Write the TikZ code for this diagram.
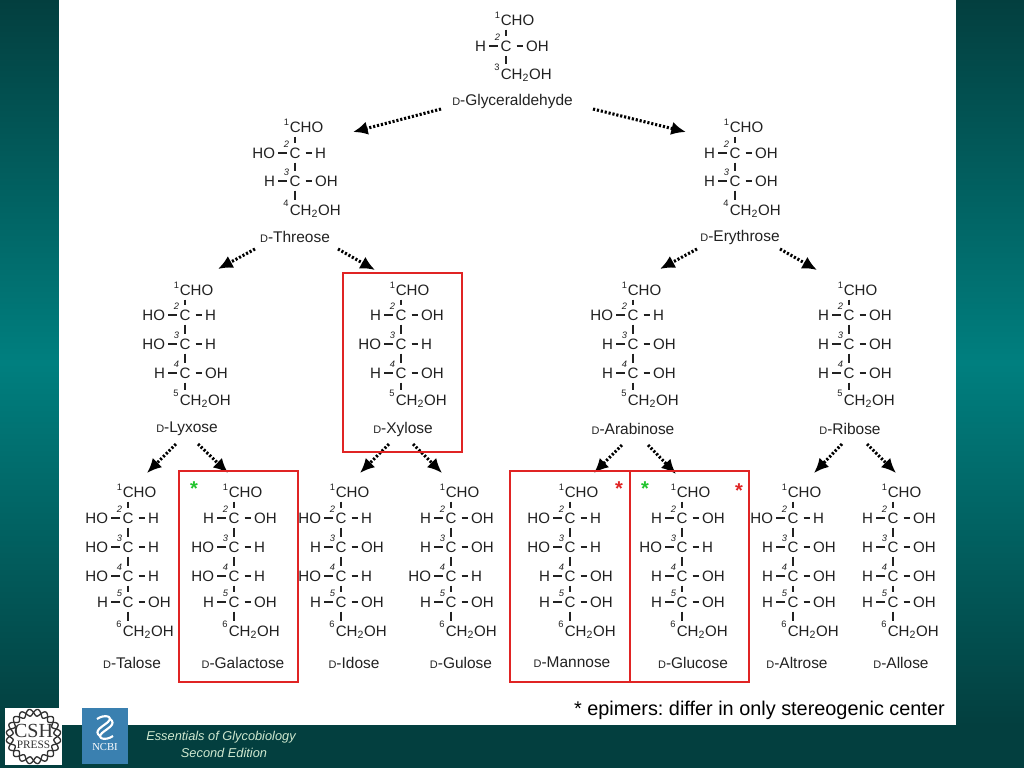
\documentclass[tikz,border=0pt]{standalone}
\usepackage{fontspec}
\setmainfont{Liberation Sans}
\newfontfamily\logofont{Liberation Serif}
\usetikzlibrary{arrows.meta}

\definecolor{bgdark}{HTML}{033F3F}
\definecolor{bgteal}{HTML}{007F7F}
\definecolor{boxred}{HTML}{E02424}
\definecolor{stargreen}{HTML}{22C42E}
\definecolor{inkgrey}{HTML}{222222}
\definecolor{ncbiblue}{HTML}{3A80B0}
\definecolor{footertext}{HTML}{CFE8CF}

\tikzset{
  atom/.style={font=\fontsize{11.3}{12}\selectfont, text=inkgrey, text height=8.1pt, text depth=0pt, inner xsep=0pt, inner ysep=3pt},
  carbon/.style={atom, inner xsep=1.7pt},
  leftgroup/.style={atom, anchor=east, inner xsep=2pt},
  rightgroup/.style={atom, anchor=west, inner xsep=2.2pt},
  num/.style={font=\fontsize{7}{7}\selectfont, text=inkgrey, inner sep=0pt},
  bond/.style={line width=1.4pt, draw=inkgrey},
  sugarname/.style={font=\fontsize{11.6}{13}\selectfont, text=inkgrey, inner sep=0pt},
  dotarrow/.style={line width=2.3pt, dash pattern=on 1.6pt off 1.4pt, -{Latex[length=11pt,width=10pt]}},
  redbox/.style={draw=boxred, line width=1.1pt},
  star/.style={font=\fontsize{15}{15}\bfseries\selectfont, inner sep=0pt},
  footer/.style={font=\fontsize{9.6}{11}\itshape\selectfont, text=footertext, inner sep=0pt}
}

% id, centre x, CHO y, rows y/left/right, CH2OH y, name, name position
\newcommand{\fischer}[7]{
  \node[atom, anchor=west] (#1c1) at (#2-5.5,#3) {CHO};
  \node[num] (#1n1) at (#2-8.5,#3-5) {1};
  \foreach \yy/\lft/\rgt [count=\n from 2] in {#4} {
    \pgfmathtruncatemacro\p{\n-1}
    \node[carbon] (#1c\n) at (#2,\yy) {C};
    \node[leftgroup] (#1l\n) at (#2-17,\yy) {\lft};
    \node[rightgroup] (#1r\n) at (#2+17,\yy) {\rgt};
    \node[num, font=\fontsize{7}{7}\itshape] (#1n\n) at (#2-8.5,\yy-8.5) {\n};
    \draw[bond] (#1c\p.south -| #1c\n.north) -- (#1c\n.north);
    \draw[bond] (#1l\n) -- (#1c\n);
    \draw[bond, shorten <=2pt] (#1c\n) -- (#1r\n);
    \xdef\lastc{\n}
  }
  \pgfmathtruncatemacro\q{\lastc+1}
  \node[atom, anchor=west] (#1c\q) at (#2-5.5,#5) {CH\textsubscript{2}OH};
  \node[num] (#1n\q) at (#2-9,#5-7) {\q};
  \draw[bond] (#1c\lastc.south) -- (#1c\lastc.south |- #1c\q.north);
  \node[sugarname] (#1name) at (#7) {{\fontsize{8.2}{9}\selectfont D}-#6};
}

% name, from, to
\newcommand{\reaction}[3]{
  \coordinate (#1a) at (#2);
  \coordinate (#1b) at (#3);
  \draw[dotarrow] (#1a) -- (#1b);
}

\begin{document}
\begin{tikzpicture}[x=0.75pt, y=-0.75pt]
  \useasboundingbox (0,0) rectangle (1024,768);

  % Background
  \shade[top color=bgdark, bottom color=bgdark, middle color=bgteal] (0,0) rectangle (1024,725);
  \fill[white] (59,0) rectangle (956,725);
  \fill[bgdark] (0,725) rectangle (1024,768);

  % Triose
  \fischer{gly}{506}{20}{46/H/OH}{74}{Glyceraldehyde}{512.5,101}
  % Tetroses
  \fischer{thr}{295}{127}{153/HO/H,181/H/OH}{210}{Threose}{295,237}
  \fischer{ery}{735}{127}{153/H/OH,181/H/OH}{210}{Erythrose}{740,237}
  % Pentoses
  \fischer{lyx}{185}{290}{315/HO/H,344/HO/H,373/H/OH}{400}{Lyxose}{187,429}
  \fischer{xyl}{401}{290}{315/H/OH,344/HO/H,373/H/OH}{400}{Xylose}{403,429}
  \fischer{ara}{633}{290}{315/HO/H,344/H/OH,373/H/OH}{400}{Arabinose}{633,429}
  \fischer{rib}{849}{290}{315/H/OH,344/H/OH,373/H/OH}{400}{Ribose}{850,429}
  % Hexoses
  \fischer{tal}{128}{492}{518/HO/H,547/HO/H,576/HO/H,602/H/OH}{631}{Talose}{132,662.5}
  \fischer{gal}{234}{492}{518/H/OH,547/HO/H,576/HO/H,602/H/OH}{631}{Galactose}{243,662.5}
  \fischer{ido}{341}{492}{518/HO/H,547/H/OH,576/HO/H,602/H/OH}{631}{Idose}{354,662.5}
  \fischer{gul}{451}{492}{518/H/OH,547/H/OH,576/HO/H,602/H/OH}{631}{Gulose}{461,662.5}
  \fischer{man}{570}{492}{518/HO/H,547/HO/H,576/H/OH,602/H/OH}{631}{Mannose}{572,662.5}
  \fischer{glc}{682}{492}{518/H/OH,547/HO/H,576/H/OH,602/H/OH}{631}{Glucose}{693,662.5}
  \fischer{alt}{793}{492}{518/HO/H,547/H/OH,576/H/OH,602/H/OH}{631}{Altrose}{797,662.5}
  \fischer{all}{893}{492}{518/H/OH,547/H/OH,576/H/OH,602/H/OH}{631}{Allose}{901,662.5}

  % Arrows
  \reaction{glyl}{441,109}{353,132}
  \reaction{glyr}{593,109}{686,132}
  \reaction{thrl}{255,249}{218,269}
  \reaction{thrr}{338,249}{375,270}
  \reaction{eryl}{697,249}{660,269}
  \reaction{eryr}{780,249}{817,270}
  \reaction{lyxl}{176,444}{147,473}
  \reaction{lyxr}{198,444}{228,473}
  \reaction{xyll}{389,444}{360,473}
  \reaction{xylr}{413,444}{442,473}
  \reaction{aral}{622,445}{594,473}
  \reaction{arar}{648,445}{676,474}
  \reaction{ribl}{842,444}{814,473}
  \reaction{ribr}{867,444}{896,473}

  % Epimer boxes
  \draw[redbox] (343,273) rectangle (462,452);
  \draw[redbox] (179,471) rectangle (298,682);
  \draw[redbox] (510,471) rectangle (630,682);
  \draw[redbox] (630,471) rectangle (749,682);

  % Stars
  \node[star, text=stargreen] (stargal) at (194,489) {*};
  \node[star, text=boxred] (starman) at (619,489) {*};
  \node[star, text=stargreen] (starglc) at (645,489) {*};
  \node[star, text=boxred] (starglcb) at (739,491) {*};

  % Footnote
  \node[font=\fontsize{14.9}{17}\selectfont, anchor=east, inner sep=0pt] (note) at (945,710)
     {\frenchspacing * epimers: differ in only stereogenic center};

  % Footer
  \node[footer] (booka) at (221,737) {Essentials of Glycobiology};
  \node[footer] (bookb) at (224,753) {Second Edition};

  % CSH logo
  \fill[white] (5,708) rectangle (62,765);
  \draw[line width=1pt, black!80] plot[domain=0:360, samples=240]
     ({33.5+(24+3.4*sin(10*\x))*cos(\x)}, {736.5+(24+3.4*sin(10*\x))*sin(\x)});
  \draw[line width=1pt, black!80] plot[domain=0:360, samples=240]
     ({33.5+(24-3.4*sin(10*\x))*cos(\x)}, {736.5+(24-3.4*sin(10*\x))*sin(\x)});
  \node[font=\logofont\fontsize{15}{15}\selectfont, inner sep=0pt, text=black!80] (cshtext) at (33.5,731) {CSH};
  \node[font=\logofont\fontsize{8.5}{9}\selectfont, inner sep=0pt, text=black!80] (presstext) at (33.5,745) {PRESS};

  % NCBI logo
  \fill[ncbiblue] (82,708) rectangle (128,764);
  \draw[white, line width=1.6pt] (97,719) .. controls (104,714) and (114,716) .. (108,722)
     .. controls (102,727) and (93,731) .. (100,736);
  \draw[white, line width=1.6pt] (113,736) .. controls (106,741) and (96,739) .. (102,733)
     .. controls (108,728) and (117,724) .. (110,719);
  \node[font=\logofont\fontsize{8}{8}\selectfont, inner sep=0pt, text=white] (ncbitext) at (105,747) {NCBI};
\end{tikzpicture}
\end{document}
